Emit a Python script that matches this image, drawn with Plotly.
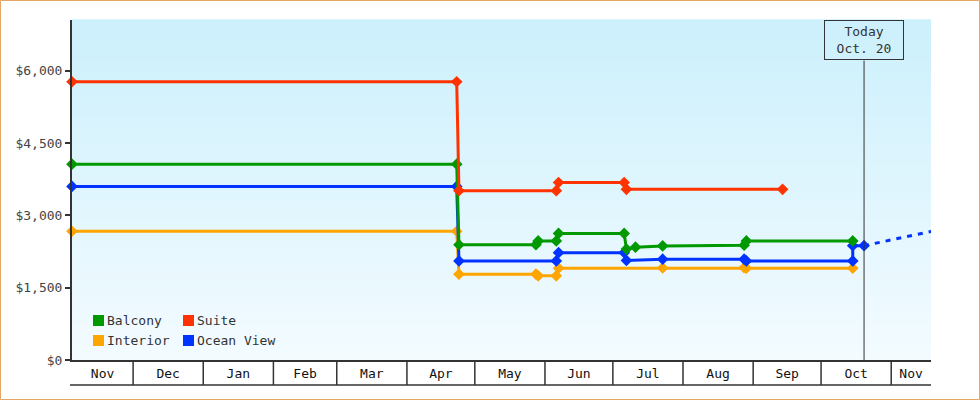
"""
Cruise cabin price history chart
Step-style price lines per cabin type with a 'Today' marker
"""
import plotly.graph_objects as go
import pandas as pd

# price observations per cabin type
balcony_dates = ["2014-11-04", "2015-04-23", "2015-04-24", "2015-05-28", "2015-05-29",
                 "2015-06-06", "2015-06-07", "2015-07-06", "2015-07-07", "2015-07-11",
                 "2015-07-23", "2015-08-28", "2015-08-29", "2015-10-15"]
balcony_prices = [4060, 4060, 2390, 2390, 2470, 2470, 2625, 2625, 2300, 2340,
                  2365, 2380, 2470, 2470]

suite_dates = ["2014-11-04", "2015-04-23", "2015-04-24", "2015-06-06", "2015-06-07",
               "2015-07-06", "2015-07-07", "2015-09-14"]
suite_prices = [5770, 5770, 3510, 3510, 3680, 3680, 3540, 3540]

interior_dates = ["2014-11-04", "2015-04-23", "2015-04-24", "2015-05-28", "2015-05-29",
                  "2015-06-06", "2015-06-07", "2015-07-23", "2015-08-28", "2015-08-29",
                  "2015-10-15"]
interior_prices = [2670, 2670, 1780, 1780, 1745, 1745, 1905, 1910, 1915, 1905, 1905]

ocean_dates = ["2014-11-04", "2015-04-23", "2015-04-24", "2015-06-06", "2015-06-07",
               "2015-07-06", "2015-07-07", "2015-07-23", "2015-08-28", "2015-08-29",
               "2015-10-15", "2015-10-15", "2015-10-20"]
ocean_prices = [3600, 3600, 2055, 2055, 2225, 2225, 2065, 2090, 2090, 2055,
                2055, 2370, 2370]

# projected ocean view price
forecast_dates = ["2015-10-20", "2015-11-19"]
forecast_prices = [2370, 2670]

# axes
x_start = "2014-11-04"
x_end = "2015-11-18 14:00"
month_starts = ["2014-12-01", "2015-01-01", "2015-02-01", "2015-03-01", "2015-04-01",
                "2015-05-01", "2015-06-01", "2015-07-01", "2015-08-01", "2015-09-01",
                "2015-10-01", "2015-11-01"]
month_labels = ["Nov", "Dec", "Jan", "Feb", "Mar", "Apr", "May", "Jun", "Jul",
                "Aug", "Sep", "Oct", "Nov"]
y_ticks = [0, 1500, 3000, 4500, 6000]

today = "2015-10-20"
today_label = "Today<br>Oct. 20"

# legend (drawn as a 2x2 grid)
legend_names = ["Balcony", "Suite", "Interior", "Ocean View"]
legend_colors = ["#009900", "#ff3300", "#ffa500", "#0033ff"]

GREEN, RED, ORANGE, BLUE = legend_colors
FONT = "DejaVu Sans Mono"
INK = "#333333"

# plot area in pixels: x 72..931, y 20..360
PLOT_W = 859
PLOT_H = 340


def px_x(px):
    return (px - 72) / PLOT_W


def px_y(py):
    return (360 - py) / PLOT_H


def price_trace(dates, prices, color, name):
    return go.Scatter(
        x=pd.to_datetime(dates),
        y=prices,
        name=name,
        mode="lines+markers",
        line=dict(color=color, width=3),
        marker=dict(symbol="diamond", size=9, color=color),
        cliponaxis=False,
        showlegend=False,
        hovertemplate="%{x|%b %d}: $%{y:,.0f}<extra>" + name + "</extra>",
    )


fig = go.Figure()

fig.add_trace(price_trace(interior_dates, interior_prices, ORANGE, "Interior"))
fig.add_trace(price_trace(ocean_dates, ocean_prices, BLUE, "Ocean View"))
fig.add_trace(go.Scatter(
    x=pd.to_datetime(forecast_dates),
    y=forecast_prices,
    mode="lines",
    line=dict(color=BLUE, width=3, dash="5px,6px"),
    showlegend=False,
    hoverinfo="skip",
))
fig.add_trace(price_trace(balcony_dates, balcony_prices, GREEN, "Balcony"))
fig.add_trace(price_trace(suite_dates, suite_prices, RED, "Suite"))

shapes = []

# vertical gradient background
top = (204, 240, 252)
bottom = (243, 251, 255)
n_bands = 68
for i in range(n_bands):
    t = i / (n_bands - 1)
    c = tuple(round(bottom[k] + (top[k] - bottom[k]) * t) for k in range(3))
    shapes.append(dict(
        type="rect", xref="paper", yref="paper", layer="below",
        x0=0, x1=1, y0=i / n_bands, y1=(i + 1) / n_bands + 0.002,
        line=dict(width=0), fillcolor="rgb(%d,%d,%d)" % c,
    ))

# month separators under the axis and bottom rule
for m in month_starts:
    shapes.append(dict(
        type="line", xref="x", yref="paper",
        x0=m, x1=m, y0=0, y1=px_y(385),
        line=dict(color=INK, width=1.5),
    ))
shapes.append(dict(
    type="line", xref="paper", yref="paper",
    x0=px_x(70), x1=1, y0=px_y(385), y1=px_y(385),
    line=dict(color=INK, width=1.5),
))

# today line
shapes.append(dict(
    type="line", xref="x", yref="paper",
    x0=today, x1=today, y0=0, y1=px_y(60.5),
    line=dict(color=INK, width=1),
))

# outer orange border
shapes.append(dict(
    type="rect", xref="paper", yref="paper",
    x0=px_x(0.5), x1=px_x(979.5), y0=px_y(399.5), y1=px_y(0.5),
    line=dict(color="#e8a865", width=1),
))

annotations = []

# month labels centred in each visible month
edges = [pd.Timestamp(x_start)] + [pd.Timestamp(m) for m in month_starts] + [pd.Timestamp(x_end)]
label_pos = [edges[i] + (edges[i + 1] - edges[i]) / 2 for i in range(len(edges) - 1)]

# legend grid
col_px = [93, 183]
row_py = [320.5, 340.5]
for i, (name, color) in enumerate(zip(legend_names, legend_colors)):
    cx = col_px[i % 2]
    cy = row_py[i // 2]
    shapes.append(dict(
        type="rect", xref="paper", yref="paper",
        x0=px_x(cx), x1=px_x(cx + 11), y0=px_y(cy + 5.5), y1=px_y(cy - 5.5),
        line=dict(width=0), fillcolor=color,
    ))
    annotations.append(dict(
        xref="paper", yref="paper", x=px_x(cx + 12), y=px_y(cy),
        xanchor="left", yanchor="middle", text=name, showarrow=False,
        font=dict(family=FONT, size=13, color=INK),
    ))

annotations.append(dict(
    xref="x", yref="paper", x=today, y=1, xanchor="center", yanchor="top",
    text=today_label, showarrow=False, align="center",
    width=74, height=34, borderpad=2,
    bordercolor=INK, borderwidth=1,
    font=dict(family=FONT, size=13, color=INK),
))

fig.update_layout(
    width=980,
    height=400,
    margin=dict(l=72, r=49, t=20, b=40),
    paper_bgcolor="white",
    plot_bgcolor="rgb(243,251,255)",
    font=dict(family=FONT, size=13, color=INK),
    showlegend=False,
    shapes=shapes,
    annotations=annotations,
    hovermode="closest",
)

fig.update_xaxes(
    type="date",
    range=[x_start, x_end],
    tickvals=label_pos,
    ticktext=month_labels,
    ticks="",
    showgrid=False,
    zeroline=False,
    showline=True,
    linecolor=INK,
    linewidth=2,
    tickfont=dict(family=FONT, size=13, color="#111"),
)

fig.update_yaxes(
    range=[0, 7050],
    tickvals=y_ticks,
    tickformat="$,.0f",
    ticks="outside",
    ticklen=5,
    tickwidth=2,
    tickcolor=INK,
    showgrid=False,
    zeroline=False,
    showline=True,
    linecolor=INK,
    linewidth=2,
    tickfont=dict(family=FONT, size=13, color="#444"),
)

fig.write_html("out.html", config={"displayModeBar": False},
               post_script="document.body.style.margin='0';")
